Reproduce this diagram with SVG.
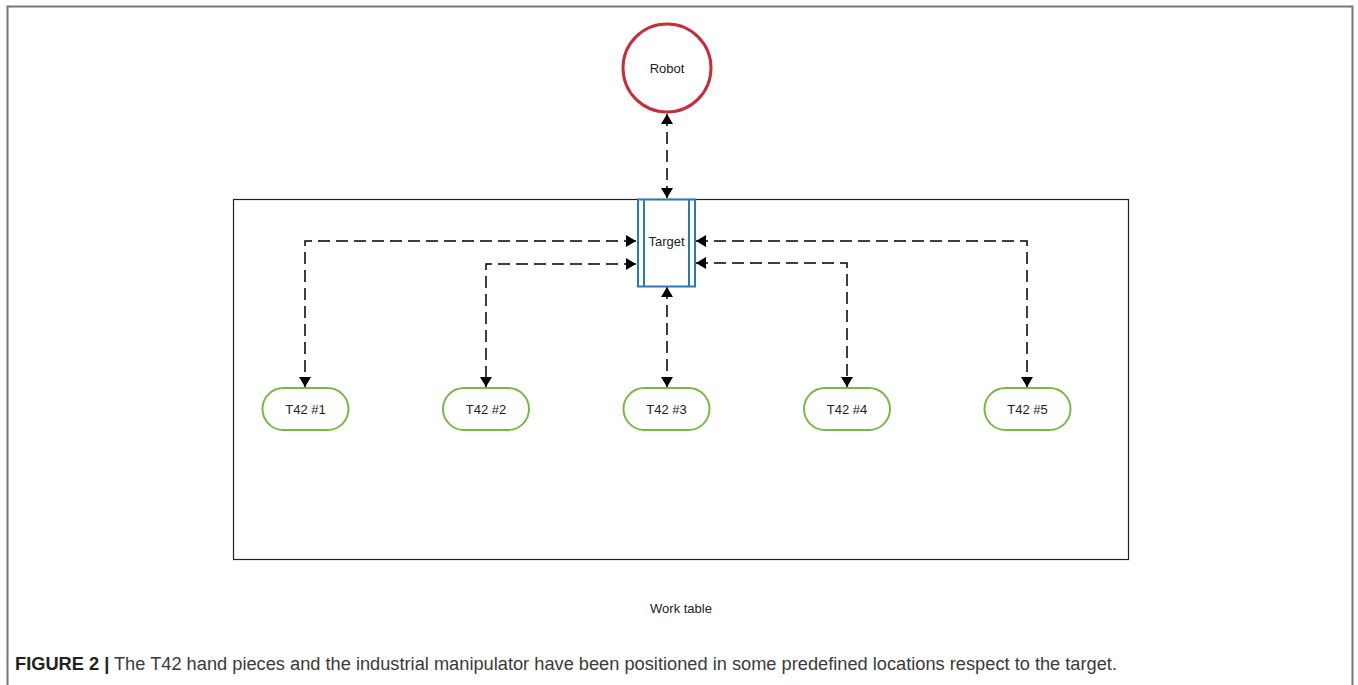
<svg xmlns="http://www.w3.org/2000/svg" width="1358" height="685" viewBox="0 0 1358 685">
<style>
.lbl{font-family:"Liberation Sans",Arial,sans-serif;font-size:13px;fill:#222;text-anchor:middle;dominant-baseline:central}
.conn{fill:none;stroke:#000;stroke-width:1.5;stroke-dasharray:12 6}
.t42{fill:#fff;stroke:#7ab648;stroke-width:2}
.cap{font-family:"Liberation Sans",Arial,sans-serif;font-size:18px;fill:#3a3a3a}
</style>
<defs>
<marker id="ah" viewBox="0 0 10 12" refX="10" refY="6" markerWidth="11" markerHeight="12" markerUnits="userSpaceOnUse" orient="auto-start-reverse">
<path d="M0,0 L10,6 L0,12 z" fill="#000"/>
</marker>
</defs>
<rect width="1358" height="685" fill="#fff"/>
<path d="M7.5,685 V6.5 H1352.5 V685" fill="none" stroke="#777" stroke-width="2"/>
<g id="worktable">
<rect x="233.5" y="199.5" width="895" height="360" fill="#fff" stroke="#222" stroke-width="1.2"/>
<text class="lbl" x="681" y="608">Work table</text>
</g>
<g id="connectors">
<path class="conn" d="M667,114 V198" marker-start="url(#ah)" marker-end="url(#ah)"/>
<path class="conn" d="M636,241 H305 V387" marker-start="url(#ah)" marker-end="url(#ah)"/>
<path class="conn" d="M636,264 H486 V387" marker-start="url(#ah)" marker-end="url(#ah)"/>
<path class="conn" d="M667,287 V387" marker-start="url(#ah)" marker-end="url(#ah)"/>
<path class="conn" d="M696,263 H847 V387" marker-start="url(#ah)" marker-end="url(#ah)"/>
<path class="conn" d="M696,241 H1027 V387" marker-start="url(#ah)" marker-end="url(#ah)"/>
</g>
<g id="robot">
<circle cx="667" cy="68" r="44" fill="#fff" stroke="#c3303b" stroke-width="3"/>
<text class="lbl" x="667" y="68">Robot</text>
</g>
<g id="target">
<rect x="638" y="199.5" width="57" height="87" fill="#fff" stroke="#2a7ab5" stroke-width="2"/>
<line x1="644" y1="199.5" x2="644" y2="286.5" stroke="#2a7ab5" stroke-width="2"/>
<line x1="689" y1="199.5" x2="689" y2="286.5" stroke="#2a7ab5" stroke-width="2"/>
<text class="lbl" x="666.5" y="241">Target</text>
</g>
<g id="t42-1"><rect class="t42" x="262.5" y="388" width="86" height="42" rx="21"/><text class="lbl" x="305.5" y="409">T42 #1</text></g>
<g id="t42-2"><rect class="t42" x="443" y="388" width="86" height="42" rx="21"/><text class="lbl" x="486" y="409">T42 #2</text></g>
<g id="t42-3"><rect class="t42" x="623.5" y="388" width="86" height="42" rx="21"/><text class="lbl" x="666.5" y="409">T42 #3</text></g>
<g id="t42-4"><rect class="t42" x="804" y="388" width="86" height="42" rx="21"/><text class="lbl" x="847" y="409">T42 #4</text></g>
<g id="t42-5"><rect class="t42" x="984.5" y="388" width="86" height="42" rx="21"/><text class="lbl" x="1027.5" y="409">T42 #5</text></g>
<text class="cap" x="15" y="670" textLength="1102" lengthAdjust="spacingAndGlyphs"><tspan font-weight="bold" fill="#222">FIGURE 2 |</tspan> The T42 hand pieces and the industrial manipulator have been positioned in some predefined locations respect to the target.</text>
</svg>
